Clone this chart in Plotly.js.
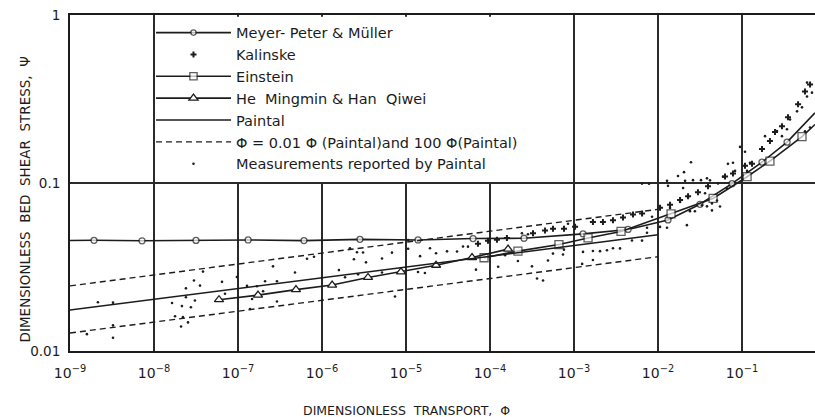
<!DOCTYPE html>
<html><head><meta charset="utf-8">
<script src="https://cdn.plot.ly/plotly-3.0.1.min.js"></script>
<style>body{margin:0;background:#fff}#chart{width:815px;height:417px}</style>
</head><body><div id="chart"></div>
<script>
// Meyer-Peter & Müller
const mpmPhi = [1e-9, 1.93e-9, 7.2e-9, 3.16e-8, 1.32e-7, 6.1e-7, 2.83e-6, 1.39e-5, 6.28e-5, 2.54e-4, 1.28e-3, 4.40e-3, 0.01315, 0.0316, 0.076, 0.173, 0.344, 0.74];
const mpmPsi = [0.0455, 0.0456, 0.0453, 0.0455, 0.0458, 0.0454, 0.0462, 0.0458, 0.0467, 0.0469, 0.0498, 0.0529, 0.0603, 0.0747, 0.0991, 0.133, 0.175, 0.262];
const mpmMarked = [0, 1, 1, 1, 1, 1, 1, 1, 1, 1, 1, 1, 1, 1, 1, 1, 1, 0];
// Kalinske
const kalPhi = [7.19e-5, 9.46e-5, 1.21e-4, 1.59e-4, 3.25e-4, 4.52e-4, 5.62e-4, 7.60e-4, 1.03e-3, 1.68e-3, 2.21e-3, 2.91e-3, 3.83e-3, 5.04e-3, 6.46e-3, 0.01057, 0.0139, 0.0183, 0.0228, 0.0299, 0.0394, 0.0628, 0.0781, 0.1086, 0.1315, 0.173, 0.215, 0.247, 0.299, 0.353, 0.465, 0.562, 0.646];
const kalPsi = [0.0435, 0.0453, 0.0459, 0.0470, 0.0502, 0.0522, 0.0535, 0.0535, 0.0549, 0.0586, 0.0585, 0.0600, 0.0624, 0.0650, 0.0658, 0.0712, 0.0741, 0.0792, 0.0835, 0.0881, 0.0955, 0.1093, 0.1138, 0.1266, 0.130, 0.1595, 0.1778, 0.201, 0.218, 0.246, 0.294, 0.351, 0.386];
// Einstein
const einPhi = [8.49e-5, 2.15e-4, 6.62e-4, 1.47e-3, 3.63e-3, 0.0143, 0.0452, 0.115, 0.215, 0.518, 0.74];
const einPsi = [0.0359, 0.0393, 0.0430, 0.0471, 0.0515, 0.0655, 0.0809, 0.109, 0.135, 0.189, 0.223];
const einMarked = [1, 1, 1, 1, 1, 1, 1, 1, 1, 1, 0];
// He Mingmin & Han Qiwei
const hePhi = [5.94e-8, 1.73e-7, 4.90e-7, 1.32e-6, 3.53e-6, 8.71e-6, 2.28e-5, 6.11e-5, 1.64e-4];
const hePsi = [0.0202, 0.0215, 0.0232, 0.0247, 0.0274, 0.0296, 0.0324, 0.0360, 0.0404];
// Paintal
const paintalPhi = [1e-9, 3.16e-6, 1e-2];
const paintalPsi = [0.01754, 0.0294, 0.0492];
// 100 Phi(Paintal) and 0.01 Phi(Paintal)
const bandUpperPhi = [1e-9, 1e-2];
const bandUpperPsi = [0.0244, 0.0697];
const bandLowerPhi = [1e-9, 1e-2];
const bandLowerPsi = [0.0128, 0.0364];
// Measurements reported by Paintal
const measPhi = [1.59e-9, 2.15e-9, 3.25e-9, 3.25e-9, 3.25e-9, 1.64e-8, 1.78e-8, 2.10e-8, 2.15e-8, 2.21e-8, 2.40e-8, 2.40e-8, 2.54e-8, 2.75e-8, 2.99e-8, 3.07e-8, 3.53e-8, 3.83e-8, 6.45e-8, 7.0e-8, 9.7e-8,
  1.28e-7, 1.39e-7, 1.47e-7, 1.68e-7, 1.99e-7, 2.10e-7, 2.61e-7, 2.91e-7, 2.91e-7, 4.77e-7, 6.63e-7, 8.03e-7, 1.59e-6, 1.88e-6, 2.15e-6, 2.40e-6, 2.61e-6, 2.69e-6, 3.08e-6, 3.34e-6, 5.18e-6, 5.18e-6, 6.81e-6, 7.39e-6, 1.06e-5,
  1.06e-5, 1.39e-5, 1.47e-5, 1.68e-5, 1.93e-5, 2.28e-5, 3.08e-5, 4.05e-5, 4.77e-5, 5.47e-5, 6.81e-5, 1.25e-4, 1.51e-4, 2.15e-4, 2.40e-4, 2.83e-4, 3.16e-4, 3.63e-4, 4.28e-4, 4.90e-4, 5.62e-4, 7.40e-4, 7.6e-4, 8.49e-4,
  1.25e-3, 1.28e-3, 1.68e-3, 1.68e-3, 2.04e-3, 2.47e-3, 2.91e-3, 3.53e-3, 4.90e-3, 6.45e-3, 7.40e-3, 7.40e-3, 8.49e-3, 6.45e-3, 7.82e-3, 0.01057, 0.0128, 0.01315, 0.0128, 0.0139, 0.0173, 0.0183, 0.0199, 0.0204, 0.0210, 0.0221, 0.0228, 0.0240, 0.0261, 0.0275, 0.0325, 0.0334, 0.0363, 0.0247,
  0.0383, 0.0416, 0.0439, 0.0383, 0.0439, 0.0504, 0.0547, 0.0518, 0.0594, 0.0663, 0.068, 0.0781, 0.0826, 0.0947, 0.1086, 0.1148, 0.1245, 0.188, 0.261, 0.299, 0.343, 0.373, 0.452, 0.518, 0.562, 0.594, 0.594, 0.645, 0.681];
const measPsi = [0.0126, 0.0195, 0.0194, 0.0142, 0.0120, 0.0193, 0.0161, 0.0140, 0.0185, 0.0159, 0.0236, 0.0209, 0.0148, 0.0182, 0.0263, 0.0200, 0.0245, 0.0297, 0.0258, 0.0219, 0.0276,
  0.0244, 0.0178, 0.0204, 0.0243, 0.0227, 0.0260, 0.0319, 0.0260, 0.0197, 0.0293, 0.0354, 0.0364, 0.0303, 0.0275, 0.0409, 0.0352, 0.0387, 0.0286, 0.0386, 0.0337, 0.0355, 0.0293, 0.0385, 0.0211, 0.0406,
  0.0458, 0.0295, 0.0367, 0.0291, 0.0409, 0.0382, 0.0392, 0.0391, 0.0419, 0.0418, 0.0305, 0.0317, 0.0372, 0.0343, 0.0502, 0.0495, 0.0319, 0.0270, 0.0263, 0.0346, 0.0380, 0.0375, 0.0401, 0.0572,
  0.0330, 0.0389, 0.0394, 0.0348, 0.0393, 0.0398, 0.0409, 0.0408, 0.0455, 0.0454, 0.0506, 0.0542, 0.0630, 0.0992, 0.0991, 0.0548, 0.103, 0.0962, 0.0541, 0.0711, 0.110, 0.0771, 0.0933, 0.116, 0.103, 0.0561, 0.0824, 0.0680, 0.104, 0.0679, 0.104, 0.0737, 0.0869, 0.133,
  0.1066, 0.1037, 0.0756, 0.0726, 0.0687, 0.0787, 0.0724, 0.0993, 0.109, 0.0927, 0.130, 0.132, 0.118, 0.164, 0.1535, 0.118, 0.132, 0.190, 0.204, 0.190, 0.209, 0.239, 0.267, 0.282, 0.203, 0.327, 0.396, 0.214, 0.345];

const xTickVals = [1e-9, 1e-8, 1e-7, 1e-6, 1e-5, 1e-4, 1e-3, 1e-2, 1e-1];
const xTickText = ['10<sup>−9</sup>', '10<sup>−8</sup>', '10<sup>−7</sup>', '10<sup>−6</sup>', '10<sup>−5</sup>', '10<sup>−4</sup>', '10<sup>−3</sup>', '10<sup>−2</sup>', '10<sup>−1</sup>'];
const yTickVals = [0.01, 0.1, 1];
const yTickText = ['0.01', '0.1', '1'];

const INK = '#1c1c1c';
const FONT = 'DejaVu Sans, sans-serif';

const traces = [
  {name: 'Meyer- Peter &amp; Müller', x: mpmPhi, y: mpmPsi, mode: 'lines+markers',
   line: {color: INK, width: 1.6},
   marker: {symbol: 'circle', size: mpmMarked.map(m => m ? 6 : 0), color: '#fff', line: {color: INK, width: 1.3}}},
  {name: 'Kalinske', x: kalPhi, y: kalPsi, mode: 'markers',
   marker: {symbol: 'cross', size: 5, color: INK, line: {width: 0}}},
  {name: 'Einstein', x: einPhi, y: einPsi, mode: 'lines+markers',
   line: {color: INK, width: 1.6},
   marker: {symbol: 'square', size: einMarked.map(m => m ? 8 : 0), color: '#fff', line: {color: INK, width: 1.3}}},
  {name: 'He  Mingmin &amp; Han  Qiwei', x: hePhi, y: hePsi, mode: 'lines+markers',
   line: {color: INK, width: 1.6},
   marker: {symbol: 'triangle-up', size: 8, color: '#fff', line: {color: INK, width: 1.3}}},
  {name: 'Paintal', x: paintalPhi, y: paintalPsi, mode: 'lines',
   line: {color: INK, width: 1.4}},
  {name: 'Φ = 0.01 Φ (Paintal)and 100 Φ(Paintal)', x: bandUpperPhi.concat([null], bandLowerPhi), y: bandUpperPsi.concat([null], bandLowerPsi),
   mode: 'lines', connectgaps: false,
   line: {color: INK, width: 1.4, dash: '6px,4px'}},
  {name: 'Measurements reported by Paintal', x: measPhi, y: measPsi, mode: 'markers',
   marker: {symbol: 'circle', size: 2.6, color: INK}}
];

const layout = {
  width: 815, height: 417,
  margin: {l: 70, r: 0, t: 15, b: 66},
  paper_bgcolor: '#fff', plot_bgcolor: '#fff',
  font: {family: FONT, color: INK, size: 13},
  showlegend: true,
  legend: {x: 0.1087, y: 0.995, xanchor: 'left', yanchor: 'top', bgcolor: 'rgba(0,0,0,0)',
           borderwidth: 0, itemwidth: 75, font: {family: FONT, size: 14.5, color: INK},
           traceorder: 'normal', itemclick: false},
  xaxis: {type: 'log', range: [-9, -0.131], tickvals: xTickVals, ticktext: xTickText,
          showgrid: true, gridcolor: '#2a2a2a', gridwidth: 1.4, zeroline: false,
          showline: true, linecolor: INK, linewidth: 2, mirror: true, ticks: '',
          ticklabelstandoff: 8,
          tickfont: {family: FONT, size: 14, color: INK}},
  yaxis: {type: 'log', range: [-2, 0], tickvals: yTickVals, ticktext: yTickText,
          showgrid: true, gridcolor: '#2a2a2a', gridwidth: 1.4, zeroline: false,
          showline: true, linecolor: INK, linewidth: 2, mirror: false, ticks: '',
          ticklabelstandoff: 5,
          tickfont: {family: FONT, size: 13.5, color: INK}},
  shapes: [
    {type: 'rect', xref: 'paper', yref: 'paper', x0: 0.1142, x1: 0.6750, y0: 0.503, y1: 0.995,
     fillcolor: '#fff', line: {width: 0}, layer: 'above'}
  ],
  annotations: [
    {text: 'DIMENSIONLESS  TRANSPORT,  Φ', xref: 'paper', yref: 'paper', x: 0.452, y: -0.176,
     xanchor: 'center', yanchor: 'middle', showarrow: false, font: {family: FONT, size: 12.5, color: INK}},
    {text: 'DIMENSIONLESS  BED  SHEAR  STRESS,  Ψ', xref: 'paper', yref: 'paper', x: -0.060, y: 0.452,
     xanchor: 'center', yanchor: 'middle', textangle: -90, showarrow: false, font: {family: FONT, size: 13.5, color: INK}}
  ]
};

Plotly.newPlot('chart', traces, layout, {displayModeBar: false, staticPlot: true});
</script>
</body></html>
